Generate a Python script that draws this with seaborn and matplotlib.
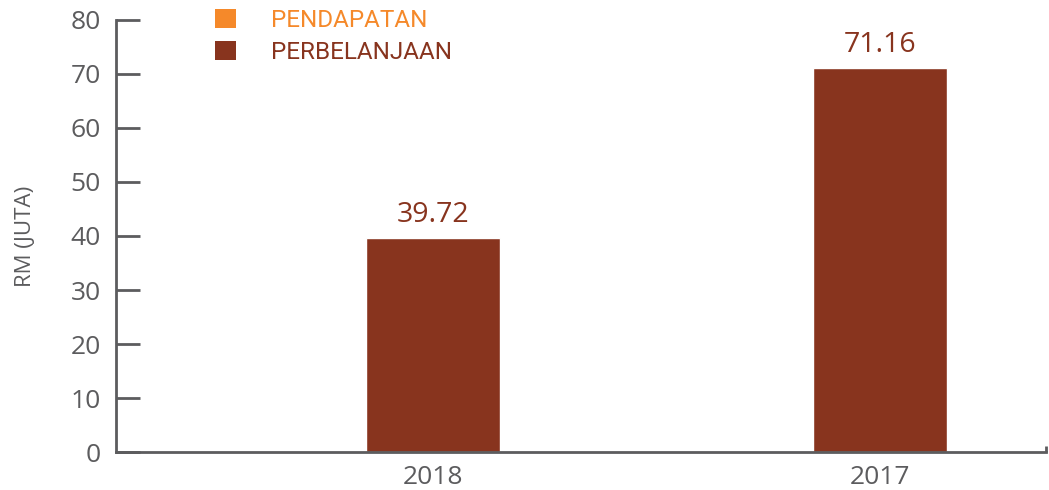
import matplotlib
matplotlib.use("Agg")
import matplotlib.pyplot as plt
import seaborn as sns
import pandas as pd
from matplotlib.patches import Patch

years = ["2018", "2017"]
perbelanjaan = [39.72, 71.16]
series_labels = ["PENDAPATAN", "PERBELANJAAN"]
series_colors = ["#F5892A", "#88341E"]
y_ticks = [0, 10, 20, 30, 40, 50, 60, 70, 80]

sns.set_theme(style="white")
plt.rcParams['font.family'] = ['Open Sans', 'DejaVu Sans']

gray = "#5c5c5e"
df = pd.DataFrame({"year": years, "value": perbelanjaan})

fig = plt.figure(figsize=(10.49, 4.90), dpi=100)
ax = fig.add_axes([116/1049, 1-452/490, (1046-116)/1049, (452-20)/490])
sns.barplot(data=df, x="year", y="value", color=series_colors[1], width=0.30,
            saturation=1, ax=ax)

ax.set_ylim(0, 80)
ax.set_xlim(-0.709, 1.371)
ax.set_yticks(y_ticks)
ax.set_xlabel("")
ax.set_ylabel("RM (JUTA)", fontsize=16, color=gray, labelpad=25)

for s in ["top", "right"]:
    ax.spines[s].set_visible(False)
for s in ["left", "bottom"]:
    ax.spines[s].set_color(gray)
    ax.spines[s].set_linewidth(2)

ax.tick_params(axis="y", left=True, direction="in", length=17, width=2, color=gray,
               labelsize=19, labelcolor=gray, pad=11)
ax.tick_params(axis="x", length=0, labelsize=19, labelcolor=gray, pad=9)
ax.set_xticks([1.371], minor=True)
ax.tick_params(axis="x", which="minor", bottom=True, direction="in", length=4,
               width=2, color=gray)

for cont in ax.containers:
    ax.bar_label(cont, labels=[f"{v:.2f}" for v in perbelanjaan], padding=6,
                 fontsize=20.5, color=series_colors[1])

handles = [Patch(facecolor=c, edgecolor="none") for c in series_colors]
leg = fig.legend(handles, series_labels, loc="upper left",
                 bbox_to_anchor=(215/1049, 1-9/490), frameon=False,
                 fontsize=17.5, handlelength=0.85, handleheight=0.85,
                 handletextpad=1.45, labelspacing=0.35, borderpad=0,
                 borderaxespad=0)
for t, c in zip(leg.get_texts(), series_colors):
    t.set_color(c)
    t.set_family(['Roboto', 'DejaVu Sans'])

fig.savefig("out.png", dpi=100)
